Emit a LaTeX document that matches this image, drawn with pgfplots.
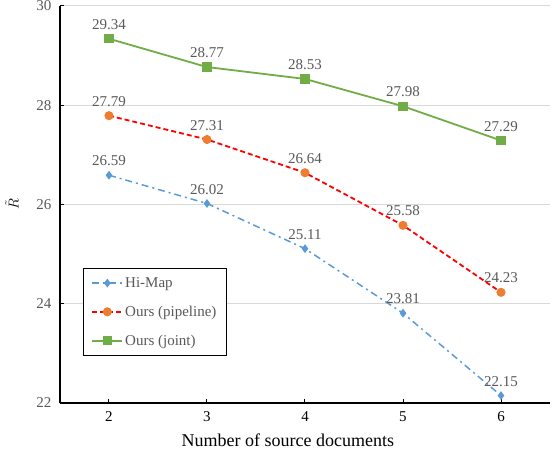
\documentclass[border=0pt]{standalone}
\usepackage{fontspec}
\setmainfont{Liberation Serif}
\usepackage{pgfplots}
\pgfplotsset{compat=1.18}
\definecolor{cgreen}{HTML}{70AD47}
\definecolor{corange}{HTML}{ED7D31}
\definecolor{cblue}{HTML}{5B9BD5}
\definecolor{cred}{HTML}{FF0000}
\definecolor{ctext}{HTML}{595959}
\definecolor{cgrid}{HTML}{D9D9D9}
\begin{document}
\begin{tikzpicture}[x=1pt,y=1pt]
\path[use as bounding box] (-60,-49) rectangle (492,403);
\begin{axis}[
    at={(0,0)}, anchor=south west,
    scale only axis, width=490pt, height=397pt,
    xmin=1.5, xmax=6.5, ymin=22, ymax=30,
    xtick={2,3,4,5,6}, ytick={22,24,26,28,30},
    axis x line*=bottom, axis y line*=left,
    axis line style={line width=1.3pt, black},
    tick style={black, line width=1pt},
    major tick length=4pt,
    ymajorgrids, grid style={cgrid, line width=1pt},
    /pgf/number format/assume math mode=true,
    tick label style={font=\fontsize{15}{17}\selectfont},
    yticklabel style={ctext, xshift=-5pt},
    xticklabel style={black, yshift=-5pt},
    xlabel={Number of source documents},
    xlabel style={font=\fontsize{18}{20}\selectfont, black, inner sep=0pt,
        at={(axis description cs:0.465,-0.076)}, anchor=north},
    ylabel={$\tilde{R}$},
    ylabel style={font=\fontsize{15}{17}\selectfont, black,
        at={(axis description cs:-0.098,0.5)}, anchor=center},
    nodes near coords,
    every node near coord/.append style={font=\fontsize{15}{17}\selectfont, ctext, yshift=5pt,
        /pgf/number format/fixed, /pgf/number format/precision=2,
        /pgf/number format/fixed zerofill},
    point meta=y,
    legend style={at={(0.047,0.34)}, anchor=north west, draw=black, line width=0.8pt,
        font=\fontsize{15}{17}\selectfont, text=ctext, row sep=13pt,
        inner xsep=8pt, inner ysep=7pt},
    legend cell align=left,
    legend image code/.code={%
        \draw[mark repeat=2, mark phase=2] plot coordinates {(0pt,0pt) (15pt,0pt) (30pt,0pt)};},
]
\addplot[cblue, line width=1.5pt, dash pattern=on 7pt off 4pt on 2pt off 4pt,
    mark=diamond*, mark size=3.2pt, mark options={solid, fill=cblue, draw=cblue}]
coordinates {(2,26.59) (3,26.02) (4,25.11) (5,23.81) (6,22.15)};
\addlegendentry{Hi-Map}
\addplot[cred, line width=1.8pt, dash pattern=on 5pt off 3pt,
    mark=*, mark size=3.6pt, mark options={solid, fill=corange, draw=corange}]
coordinates {(2,27.79) (3,27.31) (4,26.64) (5,25.58) (6,24.23)};
\addlegendentry{Ours (pipeline)}
\addplot[cgreen, line width=1.8pt,
    mark=square*, mark size=3.8pt, mark options={solid, fill=cgreen, draw=cgreen}]
coordinates {(2,29.34) (3,28.77) (4,28.53) (5,27.98) (6,27.29)};
\addlegendentry{Ours (joint)}
\end{axis}
\end{tikzpicture}
\end{document}
